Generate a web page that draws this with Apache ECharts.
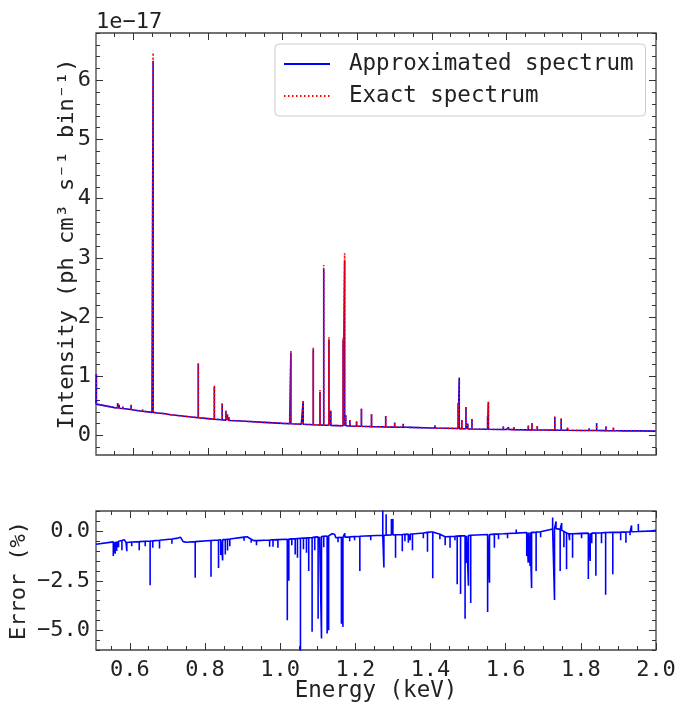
<!DOCTYPE html>
<html>
<head>
<meta charset="utf-8">
<script src="https://cdn.jsdelivr.net/npm/echarts@6/dist/echarts.min.js"></script>
<style>html,body{margin:0;padding:0;background:#fff}#c{width:680px;height:704px}</style>
</head>
<body>
<div id="c"></div>
<script>
// ---------------- DATA (intensity in units of 1e-17) ----------------
const energyTicks = [0.6, 0.8, 1.0, 1.2, 1.4, 1.6, 1.8, 2.0];
const energyTickLabels = ['0.6', '0.8', '1.0', '1.2', '1.4', '1.6', '1.8', '2.0'];
const intensityTicks = [0, 1, 2, 3, 4, 5, 6];
const errorTicks = [-5.0, -2.5, 0.0];
const errorTickLabels = ['\u22125.0', '\u22122.5', '0.0'];

// continuum of the spectrum (energy keV, intensity)
const contE = [0.50, 0.55, 0.60, 0.65, 0.70, 0.75, 0.80, 0.85, 0.90, 0.95, 1.00, 1.05, 1.10, 1.15, 1.20, 1.25, 1.30, 1.40, 1.50, 1.60, 1.70, 1.80, 1.90, 2.00];
const contI = [0.53, 0.47, 0.43, 0.39, 0.35, 0.315, 0.285, 0.26, 0.24, 0.222, 0.205, 0.19, 0.177, 0.166, 0.156, 0.148, 0.141, 0.126, 0.112, 0.10, 0.092, 0.085, 0.079, 0.074];

// emission lines: [energy, continuum level, exact peak, approximated peak]
const lines = [
  [0.501, 0.53, 1.05, 1.04], [0.558, 0.465, 0.55, 0.545], [0.562, 0.46, 0.52, 0.515],
  [0.572, 0.455, 0.49, 0.49], [0.594, 0.44, 0.52, 0.515], [0.625, 0.41, 0.445, 0.44],
  [0.653, 0.39, 6.47, 6.33], [0.665, 0.38, 0.40, 0.40], [0.680, 0.37, 0.40, 0.40],
  [0.774, 0.30, 1.23, 1.21], [0.817, 0.275, 0.84, 0.82], [0.838, 0.265, 0.55, 0.54],
  [0.848, 0.26, 0.42, 0.41], [0.852, 0.258, 0.36, 0.355], [0.856, 0.255, 0.31, 0.305],
  [0.862, 0.252, 0.28, 0.28], [1.019, 0.20, 0.38, 0.37], [1.022, 0.198, 1.43, 1.40],
  [1.055, 0.19, 0.59, 0.58], [1.082, 0.182, 1.49, 1.45], [1.100, 0.177, 0.77, 0.74],
  [1.110, 0.175, 2.88, 2.81], [1.124, 0.172, 1.66, 1.62], [1.129, 0.17, 0.42, 0.41],
  [1.162, 0.165, 1.65, 1.60], [1.166, 0.164, 3.08, 2.95], [1.169, 0.163, 0.35, 0.34],
  [1.180, 0.16, 0.26, 0.26], [1.198, 0.157, 0.24, 0.24], [1.211, 0.155, 0.46, 0.45],
  [1.238, 0.15, 0.37, 0.36], [1.276, 0.145, 0.33, 0.33], [1.300, 0.142, 0.22, 0.22],
  [1.323, 0.14, 0.20, 0.20], [1.335, 0.138, 0.165, 0.165], [1.342, 0.137, 0.165, 0.165],
  [1.408, 0.125, 0.17, 0.17], [1.470, 0.117, 0.55, 0.54], [1.473, 0.116, 0.98, 0.97],
  [1.480, 0.115, 0.265, 0.26], [1.491, 0.113, 0.49, 0.48], [1.496, 0.112, 0.20, 0.20],
  [1.507, 0.11, 0.29, 0.28], [1.549, 0.106, 0.34, 0.33], [1.551, 0.105, 0.57, 0.56],
  [1.591, 0.10, 0.15, 0.15], [1.605, 0.10, 0.14, 0.14], [1.620, 0.098, 0.14, 0.14],
  [1.658, 0.095, 0.17, 0.17], [1.668, 0.094, 0.21, 0.205], [1.682, 0.093, 0.16, 0.16],
  [1.729, 0.09, 0.32, 0.31], [1.746, 0.089, 0.29, 0.28], [1.763, 0.088, 0.13, 0.13],
  [1.821, 0.084, 0.12, 0.12], [1.841, 0.083, 0.21, 0.205], [1.866, 0.081, 0.15, 0.15],
  [1.886, 0.08, 0.13, 0.13], [1.911, 0.078, 0.11, 0.11], [1.950, 0.077, 0.10, 0.10]
];

// error (%) baseline
const errE = [0.51, 0.585, 0.59, 0.728, 0.735, 0.742, 0.75, 0.912, 0.93, 1.138, 1.148, 1.40, 1.41, 1.44, 1.735, 1.745, 1.768, 2.0];
const errV = [-0.65, -0.42, -0.56, -0.34, -0.30, -0.52, -0.55, -0.27, -0.47, -0.12, -0.32, -0.03, -0.04, -0.27, 0.14, 0.10, -0.12, 0.05];

// error spikes: [energy, baseline level, spike value]
const errSpikes = [
  [0.556, -0.53, -1.25], [0.561, -0.52, -1.13], [0.565, -0.51, -0.99], [0.570, -0.50, -0.80],
  [0.579, -0.46, -0.95], [0.592, -0.56, -1.00], [0.605, -0.54, -0.75], [0.625, -0.52, -0.95],
  [0.641, -0.50, -0.75], [0.654, -0.49, -2.72], [0.661, -0.48, -0.83], [0.679, -0.45, -0.87],
  [0.712, -0.39, -0.63], [0.774, -0.52, -2.35], [0.816, -0.46, -2.30], [0.836, -0.44, -1.85],
  [0.842, -0.43, -1.20], [0.847, -0.42, -1.47], [0.854, -0.41, -1.17], [0.860, -0.40, -0.97],
  [0.866, -0.39, -0.75], [0.904, -0.29, -0.47], [0.923, -0.40, -0.58], [0.937, -0.47, -0.70],
  [0.972, -0.44, -0.78], [0.981, -0.43, -0.78], [0.994, -0.42, -0.83], [1.019, -0.40, -4.50],
  [1.023, -0.39, -2.50], [1.031, -0.38, -0.70], [1.040, -0.37, -1.17], [1.046, -0.36, -1.33],
  [1.054, -0.35, -6.30], [1.062, -0.34, -0.90], [1.070, -0.33, -1.08], [1.076, -0.32, -2.00],
  [1.085, -0.31, -5.08], [1.092, -0.29, -0.95], [1.101, -0.28, -4.42], [1.105, -0.27, -0.60],
  [1.110, -0.26, -5.42], [1.116, -0.25, -0.80], [1.125, -0.24, -5.17], [1.129, -0.23, -5.00],
  [1.134, -0.13, -0.33], [1.145, -0.15, -0.05], [1.154, -0.31, -0.55], [1.163, -0.30, -4.67],
  [1.167, -0.30, -4.83], [1.172, -0.29, -0.10], [1.185, -0.28, -0.50], [1.198, -0.26, -0.45],
  [1.212, -0.25, -2.00], [1.241, -0.22, -0.45], [1.273, -0.20, 1.05], [1.276, -0.20, -1.83],
  [1.282, -0.19, 0.87], [1.296, -0.18, 0.63], [1.300, -0.18, 0.63], [1.307, -0.17, -1.33],
  [1.325, -0.16, -1.00], [1.332, -0.15, -0.50], [1.341, -0.14, -0.58], [1.346, -0.13, -0.45],
  [1.352, -0.13, -0.95], [1.381, -0.08, -0.35], [1.392, -0.05, -1.03], [1.406, -0.03, -2.37],
  [1.425, -0.15, -0.40], [1.439, -0.27, -0.70], [1.452, -0.26, -0.83], [1.465, -0.25, -0.45],
  [1.471, -0.24, -2.67], [1.480, -0.23, -3.17], [1.492, -0.22, -4.42], [1.496, -0.22, -1.60],
  [1.501, -0.21, -2.75], [1.507, -0.20, -3.62], [1.552, -0.16, -4.08], [1.557, -0.16, -2.60],
  [1.570, -0.14, -0.83], [1.581, -0.13, -0.40], [1.594, -0.12, -0.03], [1.605, -0.11, -0.35],
  [1.628, -0.09, 0.10], [1.656, -0.06, -1.25], [1.660, -0.06, -1.58], [1.665, -0.05, -1.75],
  [1.669, -0.05, -2.87], [1.681, -0.04, -2.00], [1.693, -0.02, -0.30], [1.725, 0.12, 0.70],
  [1.730, 0.13, -3.47], [1.734, 0.14, 0.50], [1.745, 0.10, -2.00], [1.749, 0.06, 0.42],
  [1.755, 0.00, -0.80], [1.762, -0.08, -1.92], [1.770, -0.12, -0.45], [1.778, -0.12, -1.33],
  [1.802, -0.10, -0.35], [1.820, -0.09, -2.41], [1.825, -0.09, -1.50], [1.829, -0.09, -0.60],
  [1.840, -0.08, -2.25], [1.855, -0.07, -0.60], [1.866, -0.06, -3.20], [1.885, -0.05, -2.17],
  [1.906, -0.04, -0.45], [1.920, -0.03, -0.58], [1.931, -0.02, -0.20], [1.935, -0.02, 0.30],
  [1.940, -0.02, -0.05], [1.953, -0.01, 0.37], [1.975, 0.01, 0.10], [1.985, 0.02, 0.12]
];

// ---------------- BUILD ----------------
function buildLine(baseE, baseV, spikes, col) {
  const pts = baseE.map((e, i) => ({ e: e, seg: [[e, baseV[i]]] }));
  spikes.forEach(s => pts.push({ e: s[0], seg: [[s[0], s[1]], [s[0], s[col]], [s[0], s[1]]] }));
  pts.sort((a, b) => a.e - b.e);
  const out = [];
  pts.forEach(p => p.seg.forEach(q => out.push(q)));
  return out;
}
const approxData = buildLine(contE, contI, lines, 3);
const exactData = buildLine(contE, contI, lines, 2);
const errorData = buildLine(errE, errV, errSpikes, 2);

function steps(a, b, s) {
  const r = [];
  for (let v = a; v <= b + 1e-9; v += s) r.push(Math.round(v * 1000) / 1000);
  return r;
}
const xMinor = steps(0.55, 1.95, 0.05).filter(v => Math.abs(v * 5 - Math.round(v * 5)) > 1e-6);
const yMinorMain = steps(-0.2, 6.8, 0.2).filter(v => Math.abs(v - Math.round(v)) > 1e-6);
const yMinorErr = steps(-6.0, 1.0, 0.5).filter(v => Math.abs(v / 2.5 - Math.round(v / 2.5)) > 1e-6);

const FONT = "'DejaVu Sans Mono', monospace";
const TXT = '#222';
const TICK = { color: '#333', width: 1 };

function mkAxis(grid, pos, min, max, ticks, len, extra) {
  return Object.assign({
    type: 'value', gridIndex: grid, position: pos, min: min, max: max,
    axisLine: { show: false, onZero: false },
    axisTick: { show: true, inside: true, length: len, lineStyle: TICK, customValues: ticks },
    axisLabel: { show: false },
    splitLine: { show: false }
  }, extra || {});
}

const G0 = { xmin: 0.5, xmax: 2.0, ymin: -0.33, ymax: 6.8 };
const G1 = { xmin: 0.51, xmax: 2.0, ymin: -6.0, ymax: 1.03 };

const xAxis = [
  mkAxis(0, 'bottom', G0.xmin, G0.xmax, energyTicks, 7),
  mkAxis(0, 'bottom', G0.xmin, G0.xmax, xMinor, 4),
  mkAxis(0, 'top', G0.xmin, G0.xmax, energyTicks, 7),
  mkAxis(0, 'top', G0.xmin, G0.xmax, xMinor, 4),
  mkAxis(1, 'bottom', G1.xmin, G1.xmax, energyTicks, 7, {
    axisLabel: { show: true, customValues: energyTicks, margin: 9, fontFamily: FONT, fontSize: 22, color: TXT,
      formatter: v => energyTickLabels[energyTicks.findIndex(t => Math.abs(t - v) < 1e-6)] },
    name: 'Energy (keV)', nameLocation: 'middle', nameGap: 30, nameMoveOverlap: false,
    nameTextStyle: { fontFamily: FONT, fontSize: 22.5, color: TXT }
  }),
  mkAxis(1, 'bottom', G1.xmin, G1.xmax, xMinor, 4),
  mkAxis(1, 'top', G1.xmin, G1.xmax, energyTicks, 7),
  mkAxis(1, 'top', G1.xmin, G1.xmax, xMinor, 4)
];
const yAxis = [
  mkAxis(0, 'left', G0.ymin, G0.ymax, intensityTicks, 7, {
    axisLabel: { show: true, customValues: intensityTicks, margin: 5, fontFamily: FONT, fontSize: 22, color: TXT,
      formatter: v => String(Math.round(v)) },
    name: 'Intensity (ph cm\u00B3 s\u207B\u00B9 bin\u207B\u00B9)', nameLocation: 'middle', nameGap: 18, nameRotate: 90,
    nameMoveOverlap: false,
    nameTextStyle: { fontFamily: FONT, fontSize: 22, color: TXT }
  }),
  mkAxis(0, 'left', G0.ymin, G0.ymax, yMinorMain, 4),
  mkAxis(0, 'right', G0.ymin, G0.ymax, intensityTicks, 7),
  mkAxis(0, 'right', G0.ymin, G0.ymax, yMinorMain, 4),
  mkAxis(1, 'left', G1.ymin, G1.ymax, errorTicks, 7, {
    axisLabel: { show: true, customValues: errorTicks, margin: 6, fontFamily: FONT, fontSize: 22, color: TXT,
      formatter: v => errorTickLabels[errorTicks.findIndex(t => Math.abs(t - v) < 1e-6)] },
    name: 'Error (%)', nameLocation: 'middle', nameGap: 66, nameRotate: 90,
    nameMoveOverlap: false,
    nameTextStyle: { fontFamily: FONT, fontSize: 22, color: TXT }
  }),
  mkAxis(1, 'left', G1.ymin, G1.ymax, yMinorErr, 4),
  mkAxis(1, 'right', G1.ymin, G1.ymax, errorTicks, 7),
  mkAxis(1, 'right', G1.ymin, G1.ymax, yMinorErr, 4)
];

const chart = echarts.init(document.getElementById('c'), null, { renderer: 'canvas' });
chart.setOption({
  animation: false,
  backgroundColor: '#fff',
  grid: [
    { left: 96, top: 33, width: 560, height: 422, show: true, borderColor: '#444', borderWidth: 1.3, backgroundColor: 'transparent' },
    { left: 96, top: 511, width: 560, height: 141, show: true, borderColor: '#444', borderWidth: 1.3, backgroundColor: 'transparent' }
  ],
  xAxis: xAxis,
  yAxis: yAxis,
  legend: {
    data: ['Approximated spectrum', 'Exact spectrum'],
    orient: 'vertical', left: 275, top: 44,
    padding: [8, 12, 8, 8], itemGap: 8, itemWidth: 46, itemHeight: 14,
    itemStyle: { opacity: 0 },
    backgroundColor: 'rgba(255,255,255,0.85)', borderColor: '#cccccc', borderWidth: 1, borderRadius: 4,
    textStyle: { fontFamily: FONT, fontSize: 22.5, color: TXT, lineHeight: 24, padding: [0, 0, 0, 14] }
  },
  graphic: [
    { type: 'text', left: 96, top: 11, style: { text: '1e\u221217', font: "22px 'DejaVu Sans Mono'", fill: TXT } }
  ],
  series: [
    { name: 'Approximated spectrum', type: 'line', xAxisIndex: 0, yAxisIndex: 0, data: approxData,
      symbol: 'none', lineStyle: { color: '#0000ff', width: 1.6 }, itemStyle: { color: '#0000ff' }, z: 2 },
    { name: 'Exact spectrum', type: 'line', xAxisIndex: 0, yAxisIndex: 0, data: exactData,
      symbol: 'none', lineStyle: { color: '#ff0000', width: 1.6, type: [1.5, 2.5] }, itemStyle: { color: '#ff0000' }, z: 3 },
    { name: 'Error', type: 'line', xAxisIndex: 4, yAxisIndex: 4, data: errorData,
      symbol: 'none', lineStyle: { color: '#0000ff', width: 1.6 }, itemStyle: { color: '#0000ff' }, z: 2 }
  ]
});
</script>
</body>
</html>
